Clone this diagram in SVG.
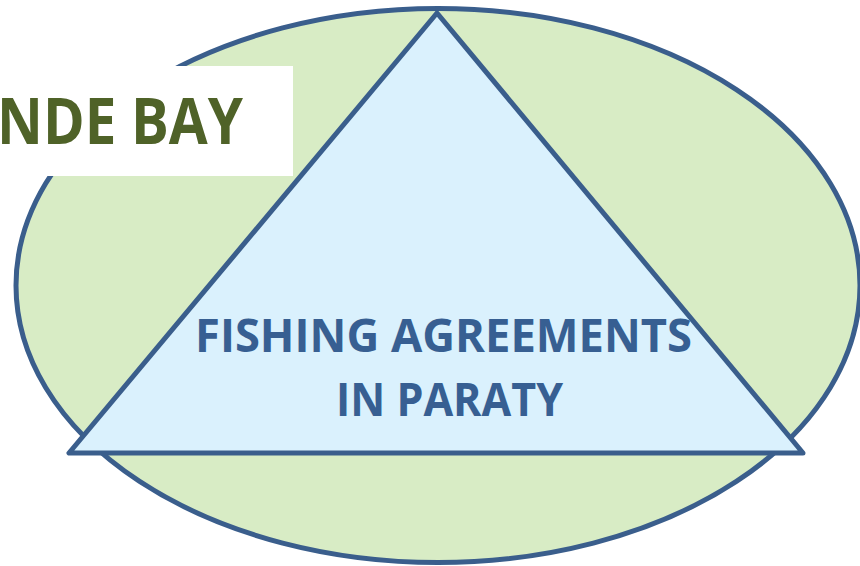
<svg xmlns="http://www.w3.org/2000/svg" width="860" height="566" viewBox="0 0 860 566">
<style>
.shape{stroke:#3a5e8c;stroke-width:5;stroke-linejoin:round}
.main{font-family:"Open Sans","Liberation Sans",sans-serif;font-weight:bold;fill:#375f92}
.title{font-family:"Open Sans","Liberation Sans",sans-serif;font-weight:bold;fill:#4f6228}
</style>
<rect width="860" height="566" fill="#ffffff"/>
<g id="bay">
<ellipse class="shape" cx="438" cy="285.5" rx="422" ry="277" fill="#d8ecc5"/>
</g>
<g id="title">
<rect x="-10" y="66" width="303" height="110" fill="#ffffff"/>
<text class="title" x="-3" y="144" font-size="65" textLength="246" lengthAdjust="spacingAndGlyphs">NDE BAY</text>
</g>
<g id="agreements">
<polygon class="shape" points="437,13 69,453 803,453" fill="#daf1fd"/>
<text class="main" x="195" y="352" font-size="47" textLength="497" lengthAdjust="spacingAndGlyphs">FISHING AGREEMENTS</text>
<text class="main" x="336" y="416" font-size="47" textLength="227" lengthAdjust="spacingAndGlyphs">IN PARATY</text>
</g>
<g id="connectors"/>
</svg>
